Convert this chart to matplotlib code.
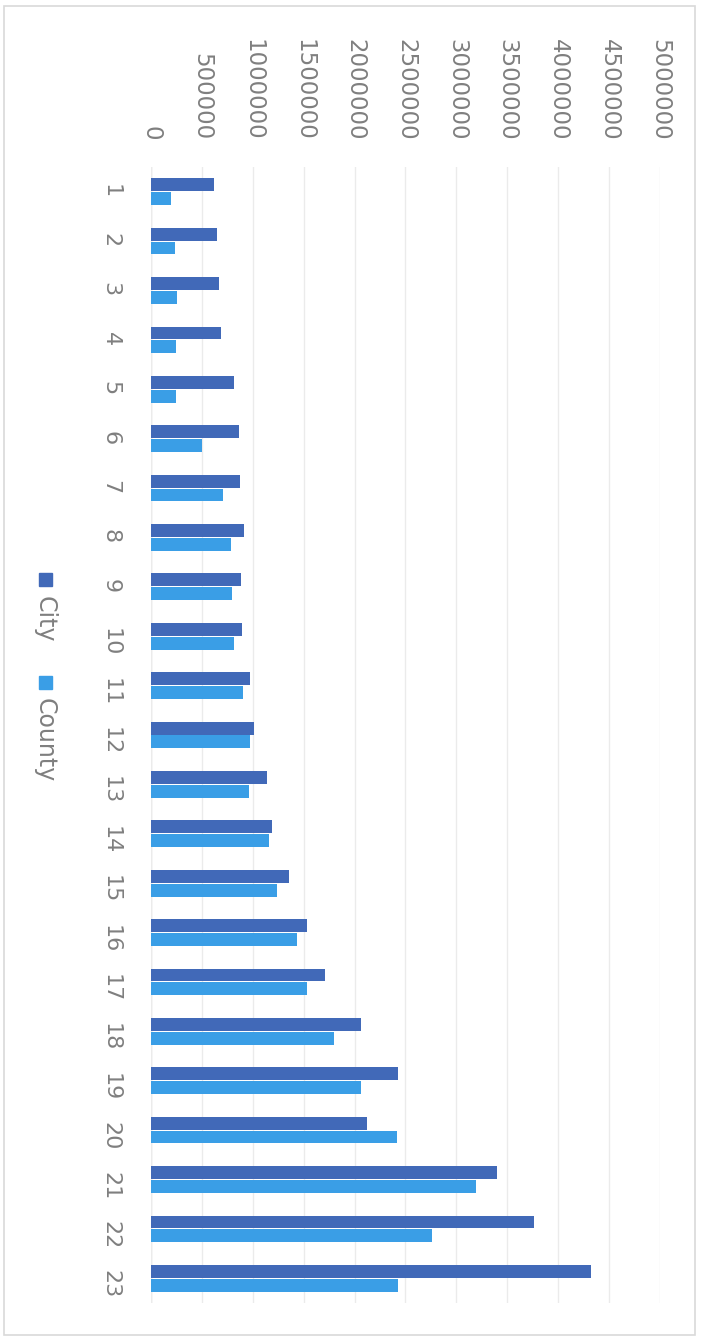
import matplotlib
matplotlib.use("Agg")
import matplotlib.pyplot as plt
import numpy as np
from matplotlib.patches import Rectangle

categories = [str(i) for i in range(1, 24)]
city = [620000, 650000, 665000, 685000, 815000, 860000, 870000, 910000, 880000, 890000,
        970000, 1010000, 1140000, 1185000, 1360000, 1530000, 1705000, 2060000, 2430000,
        2120000, 3400000, 3765000, 4325000]
county = [195000, 235000, 255000, 245000, 245000, 500000, 705000, 785000, 795000, 815000,
          900000, 970000, 960000, 1160000, 1235000, 1430000, 1530000, 1795000, 2060000,
          2420000, 3195000, 2765000, 2430000]
value_ticks = [0, 500000, 1000000, 1500000, 2000000, 2500000, 3000000, 3500000, 4000000, 4500000, 5000000]

city_color = "#4169B8"
county_color = "#3A9EE6"
text_color = "#7F7F7F"

W, H = 703, 1341
fig = plt.figure(figsize=(W / 100, H / 100), dpi=100)
fig.patch.set_facecolor("white")

# outer border
fig.patches.append(Rectangle((4 / W, 6 / H), (W - 12) / W, (H - 12) / H, transform=fig.transFigure,
                             fill=False, edgecolor="#D9D9D9", linewidth=1.2))

ax = fig.add_axes([151 / W, 1 - 1303 / H, (660 - 151) / W, (1303 - 167) / H])
y = np.arange(len(categories))
bh = 0.26
ax.barh(y - 0.14, city, height=bh, color=city_color, zorder=3)
ax.barh(y + 0.14, county, height=bh, color=county_color, zorder=3)

ax.set_ylim(len(categories) - 0.5, -0.5)
ax.set_xlim(0, 5000000)
ax.set_yticks(y)
ax.set_yticklabels(categories, rotation=-90, color=text_color, fontsize=16)
ax.xaxis.tick_top()
ax.set_xticks(value_ticks)
ax.set_xticklabels([str(v) for v in value_ticks], rotation=-90, color=text_color, fontsize=16.5)
ax.tick_params(axis="both", length=0)
ax.tick_params(axis="x", pad=19)
ax.tick_params(axis="y", pad=22)
ax.grid(axis="x", color="#EBEBEB", linewidth=1, zorder=0)
for s in ax.spines.values():
    s.set_visible(False)
ax.axvline(0, color="#E0E0E0", linewidth=1, zorder=1)

# rotated legend
sq = 13
fig.patches.append(Rectangle(((45 - sq / 2) / W, 1 - (580 + sq / 2) / H), sq / W, sq / H,
                             transform=fig.transFigure, color=city_color))
fig.text(45 / W, 1 - 596 / H, "City", rotation=-90, ha="center", va="top",
         color=text_color, fontsize=17)
fig.patches.append(Rectangle(((45 - sq / 2) / W, 1 - (683 + sq / 2) / H), sq / W, sq / H,
                             transform=fig.transFigure, color=county_color))
fig.text(45 / W, 1 - 698 / H, "County", rotation=-90, ha="center", va="top",
         color=text_color, fontsize=17)

fig.savefig("out.png", dpi=100)
